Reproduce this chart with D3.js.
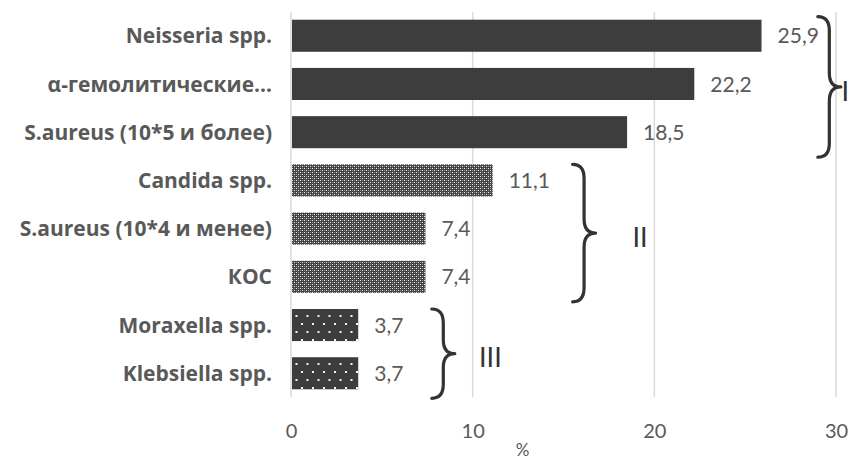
<!DOCTYPE html>
<html>
<head>
<meta charset="utf-8">
<script src="https://cdn.jsdelivr.net/npm/d3@7"></script>
<style>
  html, body { margin: 0; padding: 0; background: #fff; }
  svg { display: block; }
</style>
</head>
<body>
<svg id="chart" width="849" height="459"></svg>
<script>
// Categories (top to bottom), their percentages and the group each belongs to
const categories = [
  "Neisseria spp.",
  "α-гемолитические…",
  "S.aureus (10*5 и более)",
  "Candida spp.",
  "S.aureus (10*4 и менее)",
  "КОС",
  "Moraxella spp.",
  "Klebsiella spp."
];
const values = [25.9, 22.2, 18.5, 11.1, 7.4, 7.4, 3.7, 3.7];
const valueLabels = ["25,9", "22,2", "18,5", "11,1", "7,4", "7,4", "3,7", "3,7"];
const groupOf = [0, 0, 0, 1, 1, 1, 2, 2];

// Groups: roman label, first/last category, brace position and label position (in %)
const groupNames = ["I", "II", "III"];
const groupFirst = [0, 3, 6];
const groupLast = [2, 5, 7];
const groupBraceAt = [29.0, 15.5, 7.75];
const groupLabelAt = [30.3, 18.8, 10.35];

const xTicks = [0, 10, 20, 30];
const axisTitle = "%";

const svg = d3.select("#chart");
const plotLeft = 291, plotRight = 836, plotTop = 12, plotBottom = 397;

const x = d3.scaleLinear().domain([0, 30]).range([plotLeft, plotRight]);
const y = d3.scaleBand().domain(d3.range(categories.length)).range([plotTop, plotBottom]).paddingInner(0.335).paddingOuter(0.16);

// Fill patterns for the three groups
const defs = svg.append("defs");
const dark = "#3d3d3d";

const pDense = defs.append("pattern").attr("id", "pat-dense")
  .attr("patternUnits", "userSpaceOnUse").attr("width", 4).attr("height", 4);
pDense.append("rect").attr("width", 4).attr("height", 4).attr("fill", "#444");
pDense.append("rect").attr("x", 0).attr("y", 0).attr("width", 1).attr("height", 1).attr("fill", "#ececec");
pDense.append("rect").attr("x", 2).attr("y", 2).attr("width", 1).attr("height", 1).attr("fill", "#ececec");
pDense.append("rect").attr("x", 2).attr("y", 0).attr("width", 1).attr("height", 1).attr("fill", "#909090");
pDense.append("rect").attr("x", 0).attr("y", 2).attr("width", 1).attr("height", 1).attr("fill", "#909090");

const pSparse = defs.append("pattern").attr("id", "pat-sparse")
  .attr("patternUnits", "userSpaceOnUse").attr("width", 11).attr("height", 16)
  .attr("x", 2).attr("y", 0);
pSparse.append("rect").attr("width", 11).attr("height", 16).attr("fill", dark);
pSparse.append("rect").attr("x", 2).attr("y", 3).attr("width", 2).attr("height", 2).attr("fill", "#f2f2f2");
pSparse.append("rect").attr("x", 7.5).attr("y", 11).attr("width", 2).attr("height", 2).attr("fill", "#f2f2f2");

const fills = [dark, "url(#pat-dense)", "url(#pat-sparse)"];

// Gridlines (including the zero line)
svg.append("g").selectAll("line").data(xTicks).join("line")
  .attr("x1", d => x(d)).attr("x2", d => x(d))
  .attr("y1", plotTop).attr("y2", plotBottom)
  .attr("stroke", "#d9d9d9").attr("stroke-width", 1.5);

// Bottom axis tick labels
const xAxis = d3.axisBottom(x).tickValues(xTicks).tickSize(0).tickPadding(0);
const gx = svg.append("g").attr("transform", `translate(0,${plotBottom + 27})`).call(xAxis);
gx.select(".domain").remove();
gx.selectAll("text")
  .attr("font-family", "Lato, 'Open Sans', sans-serif")
  .attr("font-size", 20).attr("fill", "#595959");

svg.append("text")
  .attr("x", x(12.75)).attr("y", 456)
  .attr("text-anchor", "middle")
  .attr("font-family", "Lato, 'Open Sans', sans-serif")
  .attr("font-size", 17).attr("fill", "#595959")
  .text(axisTitle);

// Bars
svg.append("g").selectAll("rect").data(values).join("rect")
  .attr("x", x(0) + 1)
  .attr("y", (d, i) => y(i))
  .attr("width", d => x(d) - x(0) - 1)
  .attr("height", y.bandwidth())
  .attr("fill", (d, i) => fills[groupOf[i]]);

// Value labels
svg.append("g").selectAll("text").data(values).join("text")
  .attr("x", d => x(d) + 16)
  .attr("y", (d, i) => y(i) + y.bandwidth() / 2)
  .attr("dy", "0.36em")
  .attr("font-family", "Lato, 'Open Sans', sans-serif")
  .attr("font-size", 21).attr("fill", "#595959")
  .text((d, i) => valueLabels[i]);

// Category labels
svg.append("g").selectAll("text").data(categories).join("text")
  .attr("x", x(0) - 19)
  .attr("y", (d, i) => y(i) + y.bandwidth() / 2)
  .attr("dy", "0.36em")
  .attr("text-anchor", "end")
  .attr("font-family", "'Open Sans', Lato, sans-serif")
  .attr("font-weight", "bold")
  .attr("font-size", 21).attr("fill", "#595959")
  .text(d => d);

// Curly braces grouping the categories
function bracePath(bx, y0, y1, w) {
  const mid = (y0 + y1) / 2, h = w / 2, r = Math.min(14, (y1 - y0) / 5);
  return `M${bx},${y0}` +
    `Q${bx + h},${y0} ${bx + h},${y0 + r}` +
    `L${bx + h},${mid - r}` +
    `Q${bx + h},${mid} ${bx + w},${mid}` +
    `Q${bx + h},${mid} ${bx + h},${mid + r}` +
    `L${bx + h},${y1 - r}` +
    `Q${bx + h},${y1} ${bx},${y1}`;
}

const groups = groupNames.map((name, g) => ({
  name,
  y0: y(groupFirst[g]) + (g === 0 ? -3 : 0),
  y1: y(groupLast[g]) + y.bandwidth() + 9,
  bx: x(groupBraceAt[g]),
  lx: x(groupLabelAt[g])
}));

svg.append("g").selectAll("path").data(groups).join("path")
  .attr("d", d => bracePath(d.bx, d.y0, d.y1, 23))
  .attr("fill", "none").attr("stroke", "#333").attr("stroke-width", 3.2)
  .attr("stroke-linecap", "round").attr("stroke-linejoin", "round");

svg.append("g").selectAll("text").data(groups).join("text")
  .attr("x", d => d.lx)
  .attr("y", d => (d.y0 + d.y1) / 2 + 4)
  .attr("dy", "0.36em")
  .attr("font-family", "Lato, 'Open Sans', sans-serif")
  .attr("font-size", 27).attr("fill", "#333")
  .text(d => d.name);
</script>
</body>
</html>
